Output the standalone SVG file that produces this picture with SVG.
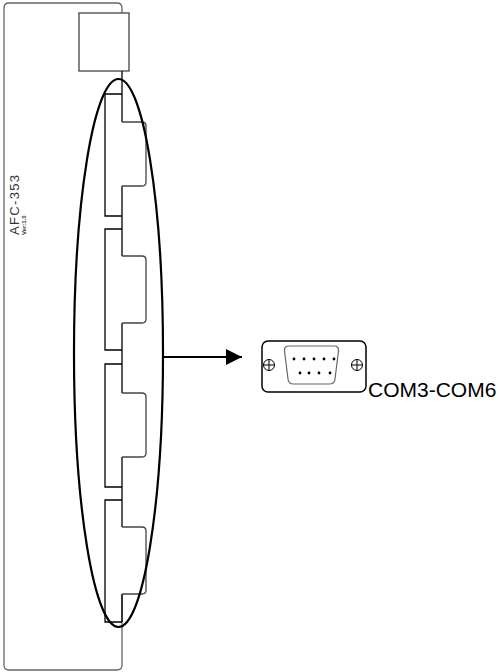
<svg xmlns="http://www.w3.org/2000/svg" width="499" height="672" viewBox="0 0 499 672">
<style>
.panel{fill:none;stroke:#666;stroke-width:1.3}
.ln{fill:none;stroke:#000;stroke-width:1.3}
.bump{fill:none;stroke:#444;stroke-width:1.3}
.ell{fill:none;stroke:#000;stroke-width:2.2}
.pin{fill:#000}
</style>
<defs>
<marker id="ah" markerWidth="17" markerHeight="17" refX="16" refY="8" orient="auto" markerUnits="userSpaceOnUse">
<path d="M0,0 L16,8 L0,16 Z" fill="#000"/>
</marker>
</defs>
<rect width="499" height="672" fill="#fff"/>
<g id="panel">
<path class="panel" d="M122,13 L122,8 Q122,3 117,3 L9,3 Q4,3 4,8 L4,665 Q4,670 9,670 L117,670 Q122,670 122,665 L122,594"/>
<rect class="ln" x="79" y="13" width="50" height="58" style="stroke:#444"/>
<path class="ln" d="M122,71 L122,122 M122,186 L122,256 M122,323 L122,393 M122,457 L122,527 M122,594 L122,622"/>
<path class="bump" d="M122,122 L142,122 Q146,122 146,126 L146,182 Q146,186 142,186 L122,186"/>
<path class="bump" d="M122,256 L142,256 Q146,256 146,260 L146,319 Q146,323 142,323 L122,323"/>
<path class="bump" d="M122,393 L142,393 Q146,393 146,397 L146,453 Q146,457 142,457 L122,457"/>
<path class="bump" d="M122,527 L142,527 Q146,527 146,531 L146,590 Q146,594 142,594 L122,594"/>
<path class="ln" d="M122,94 L105,94 L105,216 L122,216 M122,229 L105,229 L105,350 L122,350 M122,364 L105,364 L105,487 L122,487 M122,500 L105,500 L105,622 L122,622"/>
<text x="19" y="235" transform="rotate(-90 19 235)" font-family="Liberation Sans, Arial, sans-serif" font-size="13" fill="#333" textLength="60" lengthAdjust="spacing">AFC-353</text>
<text x="26" y="235" transform="rotate(-90 26 235)" font-family="Liberation Sans, Arial, sans-serif" font-size="6" font-weight="bold" fill="#333">Ver:1.0</text>
</g>
<g id="highlight">
<ellipse class="ell" cx="118.5" cy="353" rx="44.5" ry="274"/>
</g>
<g id="connectors">
<line x1="163" y1="357" x2="242" y2="357" stroke="#000" stroke-width="2" marker-end="url(#ah)"/>
</g>
<g id="db9">
<rect x="262" y="341" width="104" height="51" rx="6" fill="none" stroke="#000" stroke-width="1.5"/>
<path d="M289,346 L334,346 Q339,346 338.5,351 L335,379 Q334.5,384 329.5,384 L293.5,384 Q288.5,384 288,379 L284.5,351 Q284,346 289,346 Z" fill="none" stroke="#666" stroke-width="1.2"/>
<g fill="none" stroke="#000" stroke-width="1">
<circle cx="269" cy="365" r="5.5"/>
<path d="M263.5,365 L274.5,365 M269,359.5 L269,370.5"/>
<circle cx="357" cy="365" r="5.5"/>
<path d="M351.5,365 L362.5,365 M357,359.5 L357,370.5"/>
</g>
<g class="pin">
<circle cx="294" cy="359" r="1.4"/><circle cx="304" cy="359" r="1.4"/><circle cx="314" cy="359" r="1.4"/><circle cx="324" cy="359" r="1.4"/><circle cx="334" cy="359" r="1.4"/>
<circle cx="300" cy="373" r="1.4"/><circle cx="309" cy="373" r="1.4"/><circle cx="319" cy="373" r="1.4"/><circle cx="330" cy="373" r="1.4"/>
</g>
<text x="368" y="397" font-family="Liberation Sans, Arial, sans-serif" font-size="21" fill="#000">COM3-COM6</text>
</g>
</svg>
